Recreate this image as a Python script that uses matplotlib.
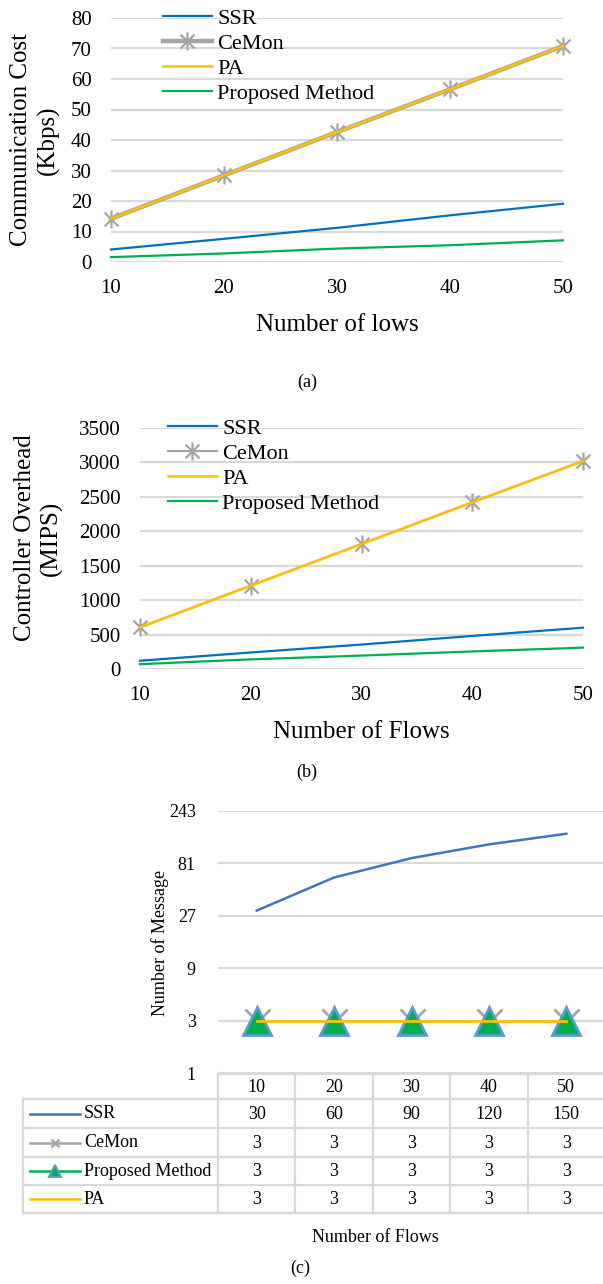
import matplotlib
matplotlib.use("Agg")
import matplotlib.pyplot as plt
import numpy as np
from matplotlib.path import Path

plt.rcParams['font.family'] = ['Liberation Serif', 'DejaVu Serif']

W, H = 603, 1284

# ---------------- data ----------------
flows = [10, 20, 30, 40, 50]

a_ssr = [4.1, 7.6, 11.2, 15.3, 19.1]
a_cemon = [14.2, 28.4, 42.6, 56.6, 70.8]
a_pa = [14.2, 28.4, 42.6, 56.6, 70.8]
a_prop = [1.6, 2.8, 4.4, 5.5, 7.1]

b_ssr = [120, 240, 355, 480, 600]
b_cemon = [605, 1210, 1815, 2420, 3020]
b_pa = [605, 1210, 1815, 2420, 3020]
b_prop = [70, 140, 195, 255, 310]

c_series = ["SSR", "CeMon", "Proposed Method", "PA"]
c_ssr = [30, 60, 90, 120, 150]
c_cemon = [3, 3, 3, 3, 3]
c_prop = [3, 3, 3, 3, 3]
c_pa = [3, 3, 3, 3, 3]

C_BLUE = '#0070c0'
C_GRAY = '#a5a5a5'
C_YEL = '#ffc000'
C_GRN = '#00b050'
C_GRID = '#d9d9d9'

# asterisk marker (x with vertical bar), Excel style
star = Path([(-1, -1), (1, 1), (-1, 1), (1, -1), (0, -1.3), (0, 1.3)],
            [Path.MOVETO, Path.LINETO, Path.MOVETO, Path.LINETO, Path.MOVETO, Path.LINETO])

fig = plt.figure(figsize=(W / 100, H / 100), dpi=100)


def rect(l, t, r, b):
    return [l / W, 1 - b / H, (r - l) / W, (b - t) / H]


def style_axes(ax, fs, xpad, ypad):
    for s in ax.spines.values():
        s.set_visible(False)
    ax.tick_params(length=0, labelsize=fs)
    ax.tick_params(axis='x', pad=xpad)
    ax.tick_params(axis='y', pad=ypad)
    ax.grid(axis='y', color=C_GRID, lw=1.6)
    ax.set_axisbelow(True)


def legend_at(ax, x0, y0):
    # x0 = pixel x of legend line start, y0 = pixel y of first row centre
    return ax.legend(loc='upper left', bbox_to_anchor=(x0 / W, 1 - (y0 - 10) / H),
                     bbox_transform=fig.transFigure, frameon=False, fontsize=16,
                     handlelength=2.2, handletextpad=0.25, labelspacing=0.2,
                     borderaxespad=0, borderpad=0)


# ---------------- (a) ----------------
ax1 = fig.add_axes(rect(111, 18, 563, 262))
ax1.plot(flows, a_ssr, color=C_BLUE, lw=1.6, label='SSR', clip_on=False)
ax1.plot(flows, a_cemon, color=C_GRAY, lw=3.2, marker=star, ms=13, mew=1.6,
         mec=C_GRAY, label='CeMon', clip_on=False)
ax1.plot(flows, a_pa, color=C_YEL, lw=1.8, label='PA', clip_on=False)
ax1.plot(flows, a_prop, color=C_GRN, lw=1.6, label='Proposed Method', clip_on=False)
ax1.set_xlim(10, 50)
ax1.set_ylim(0, 80)
ax1.set_xticks(flows)
ax1.set_yticks(range(0, 81, 10))
style_axes(ax1, 15, 12, 14)
ax1.set_xlabel('Number of lows', fontsize=18, labelpad=12)
fig.text(21 / W, 1 - 140 / H, 'Communication Cost', rotation=90, fontsize=18,
         ha='center', va='center')
fig.text(48 / W, 1 - 140 / H, '(Kbps)', rotation=90, fontsize=18,
         ha='center', va='center')
legend_at(ax1, 163, 18)

# ---------------- (b) ----------------
ax2 = fig.add_axes(rect(140, 428, 583, 669))
ax2.plot(flows, b_ssr, color=C_BLUE, lw=1.6, label='SSR', clip_on=False)
ax2.plot(flows, b_cemon, color=C_GRAY, lw=1.6, marker=star, ms=13, mew=1.6,
         mec=C_GRAY, label='CeMon', clip_on=False)
ax2.plot(flows, b_pa, color=C_YEL, lw=1.8, label='PA', clip_on=False)
ax2.plot(flows, b_prop, color=C_GRN, lw=1.6, label='Proposed Method', clip_on=False)
ax2.set_xlim(10, 50)
ax2.set_ylim(0, 3500)
ax2.set_xticks(flows)
ax2.set_yticks(range(0, 3501, 500))
style_axes(ax2, 15, 12, 14)
ax2.set_xlabel('Number of Flows', fontsize=18, labelpad=12)
fig.text(25 / W, 1 - 538 / H, 'Controller Overhead', rotation=90, fontsize=18,
         ha='center', va='center')
fig.text(51 / W, 1 - 538 / H, '(MIPS)', rotation=90, fontsize=18,
         ha='center', va='center')
legend_at(ax2, 168, 428)

# ---------------- (c) ----------------
ax3 = fig.add_axes(rect(218, 810.7, 605, 1073))
xc = np.arange(len(flows))
ax3.plot(xc, c_ssr, color='#4472c4', lw=1.8, clip_on=False)
ax3.plot(xc, c_cemon, color=C_GRAY, lw=1.8, ls='none', marker='x', ms=18, mew=2, clip_on=False)
ax3.plot(xc, c_prop, color=C_GRN, lw=1.8, ls='none', marker='^', ms=20, mfc=C_GRN,
         mec='#5b9bd5', mew=2, clip_on=False)
ax3.plot(xc, c_pa, color=C_YEL, lw=2.0, clip_on=False)
ax3.set_yscale('log', base=3)
ax3.set_ylim(1, 243)
ax3.set_xlim(-0.5, len(flows) - 0.5)
ax3.set_yticks([1, 3, 9, 27, 81, 243])
ax3.set_yticklabels(['1', '3', '9', '27', '81', '243'])
ax3.minorticks_off()
ax3.set_xticks([])
style_axes(ax3, 13, 4, 16)
ax3.grid(axis='y', which='major', color=C_GRID, lw=1.6)
fig.text(160 / W, 1 - 943 / H, 'Number of Message', rotation=90, fontsize=13,
         ha='center', va='center')

# table (data table below the chart)
tx = fig.add_axes([0, 0, 1, 1], zorder=-1)
tx.set_xlim(0, W)
tx.set_ylim(H, 0)
tx.axis('off')
col_l = 218
col_w = 77.4
rows = [1074, 1099, 1128, 1157, 1185, 1213]
tlw = 1.6
ncol = len(flows)
right = col_l + col_w * ncol
tx.plot([col_l, right], [rows[0], rows[0]], color=C_GRID, lw=tlw)
for yv in rows[1:]:
    tx.plot([23, right], [yv, yv], color=C_GRID, lw=tlw)
tx.plot([23, 23], [rows[1], rows[-1]], color=C_GRID, lw=tlw)
for i in range(ncol + 1):
    tx.plot([col_l + i * col_w] * 2, [rows[0], rows[-1]], color=C_GRID, lw=tlw)
for i, f in enumerate(flows):
    tx.text(col_l + (i + 0.5) * col_w, (rows[0] + rows[1]) / 2 + 1, str(f),
            ha='center', va='center', fontsize=13)
vals = [c_ssr, c_cemon, c_prop, c_pa]
for r, (name, v) in enumerate(zip(c_series, vals)):
    yc = (rows[r + 1] + rows[r + 2]) / 2
    tx.text(84, yc, name, ha='left', va='center', fontsize=13)
    for i, val in enumerate(v):
        tx.text(col_l + (i + 0.5) * col_w, yc + 1, str(val), ha='center', va='center', fontsize=13)
yk = [(rows[k] + rows[k + 1]) / 2 for k in range(1, 5)]
tx.plot([30, 80], [yk[0]] * 2, color='#4472c4', lw=1.8)
tx.plot([30, 80], [yk[1]] * 2, color=C_GRAY, lw=1.8)
tx.plot([55], [yk[1]], color=C_GRAY, marker='x', ms=6, mew=1.8)
tx.plot([30, 80], [yk[2]] * 2, color=C_GRN, lw=1.8)
tx.plot([55], [yk[2]], marker='^', ms=8, mfc=C_GRN, mec='#5b9bd5', mew=1.5)
tx.plot([30, 80], [yk[3]] * 2, color=C_YEL, lw=1.8)

fig.text(375 / W, 1 - 1237 / H, 'Number of Flows', fontsize=13, ha='center', va='center')

# captions
fig.text(307 / W, 1 - 382 / H, '(a)', fontsize=13, ha='center', va='center')
fig.text(307 / W, 1 - 772 / H, '(b)', fontsize=13, ha='center', va='center')
fig.text(300 / W, 1 - 1268 / H, '(c)', fontsize=13, ha='center', va='center')

fig.savefig('out.png', dpi=100)
